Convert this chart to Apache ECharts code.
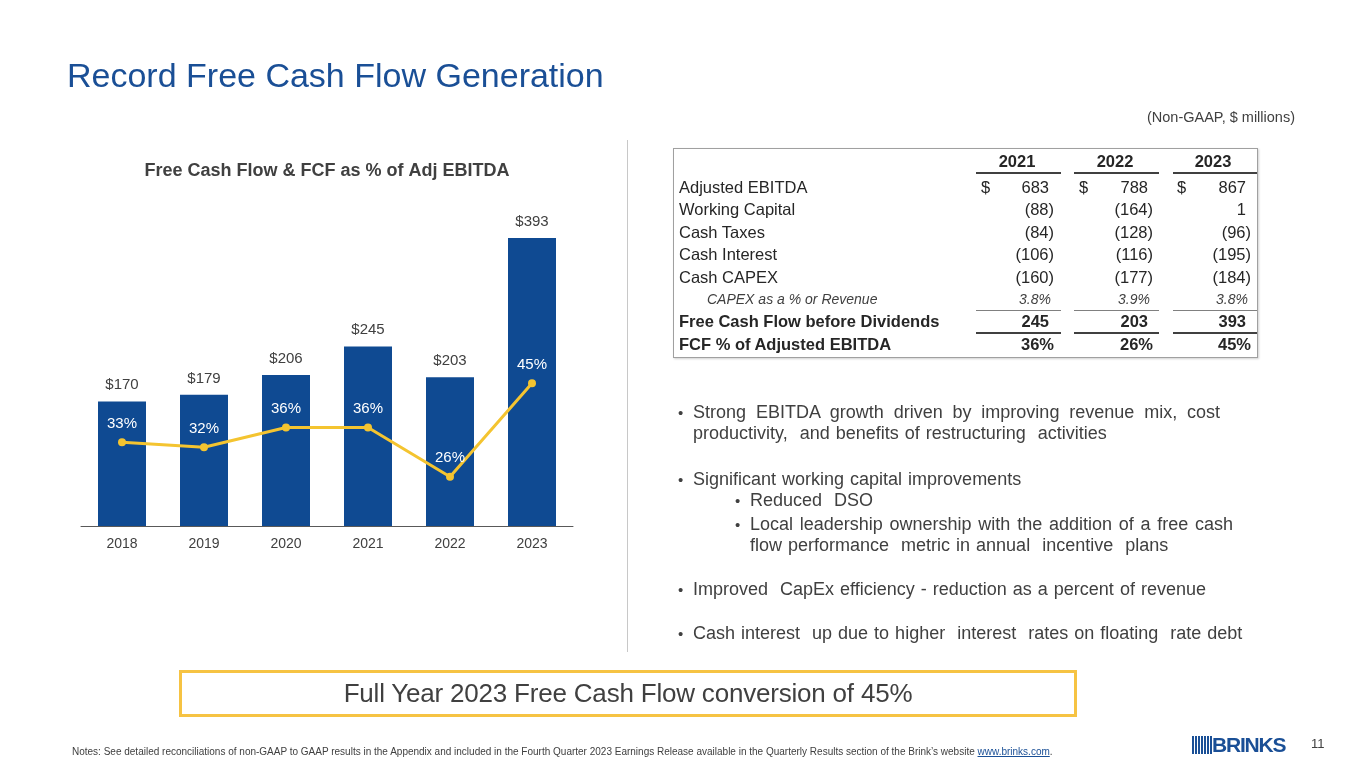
<!DOCTYPE html>
<html>
<head>
<meta charset="utf-8">
<script src="https://cdn.jsdelivr.net/npm/echarts@6/dist/echarts.min.js"></script>
<style>
    html, body { margin: 0; padding: 0; background: #fff; }
    body { width: 1365px; height: 768px; position: relative; overflow: hidden;
           font-family: "Liberation Sans", Arial, sans-serif; color: #404040; }
    #main { position: absolute; left: 0; top: 0; width: 1365px; height: 768px; }
    .abs { position: absolute; white-space: nowrap; }
    #title { left: 67px; top: 58px; font-size: 34px; color: #1a4f96; line-height: 1; }
    #unit { right: 70px; top: 109px; font-size: 14.5px; }
    #divider { left: 627px; top: 140px; width: 1px; height: 512px; background: #c8c8c8; }
    #tbl { left: 673px; top: 148px; width: 583px; height: 208px; border: 1px solid #a0a0a0;
           box-shadow: 1px 1px 2px #d0d0d0; }
    .cell { position: absolute; white-space: nowrap; font-size: 16.5px; line-height: 20px; color: #262626; }
    .rule { position: absolute; }
    .bl { position: absolute; font-size: 18px; line-height: 21px; }
    .bl .ln { text-align: justify; text-align-last: justify; white-space: nowrap; }
    .bl .ln.last { text-align-last: left; white-space: pre; word-spacing: 1px; }
    .dot { position: absolute; font-size: 15px; line-height: 21px; }
    #box { left: 179px; top: 670px; width: 892px; height: 41px; border: 3px solid #f6c343;
           text-align: center; font-size: 26px; line-height: 41px; letter-spacing: -0.2px; }
    #notes { left: 72px; top: 746px; font-size: 10px; letter-spacing: 0; }
    #notes a { color: #1a4f96; }
    #logo { left: 1192px; top: 735px; height: 20px; }
    #logo .bars { position: absolute; left: 0; top: 1px; width: 20px; height: 18px;
        background: repeating-linear-gradient(90deg, #1a4f96 0, #1a4f96 1.6px, #fff 1.6px, #fff 3px); }
    #logo .word { position: absolute; left: 20px; top: -2px; font-size: 21px; font-weight: 900;
        color: #1a4f96; letter-spacing: -1.2px; line-height: 24px; }
    #page { left: 1311px; top: 736px; font-size: 13px; }
</style>
</head>
<body>
<div id="main"></div>
<div id="title" class="abs">Record Free Cash Flow Generation</div>
<div id="unit" class="abs">(Non-GAAP, $ millions)</div>
<div id="divider" class="abs"></div>
<div id="tbl" class="abs"></div>
<div id="bullets"></div>
<div id="box" class="abs">Full Year 2023 Free Cash Flow conversion of 45%</div>
<div id="notes" class="abs">Notes: See detailed reconciliations of non-GAAP to GAAP results in the Appendix and included in the Fourth Quarter 2023 Earnings Release available in the Quarterly Results section of the Brink’s website <a href="#">www.brinks.com</a>.</div>
<div id="logo" class="abs"><div class="bars"></div><div class="word">BRINKS</div></div>
<div id="page" class="abs">11</div>

<script>
// chart data
var years = ['2018', '2019', '2020', '2021', '2022', '2023'];
var freeCashFlow = [170, 179, 206, 245, 203, 393];
var fcfPctEbitda = [33, 32, 36, 36, 26, 45];

// table data
var tableYears = ['2021', '2022', '2023'];
var adjustedEbitda = [683, 788, 867];
var workingCapital = [-88, -164, 1];
var cashTaxes = [-84, -128, -96];
var cashInterest = [-106, -116, -195];
var cashCapex = [-160, -177, -184];
var capexPctRevenue = [3.8, 3.9, 3.8];
var fcfBeforeDividends = [245, 203, 393];
var fcfPctAdjEbitda = [36, 26, 45];

var bullets = [
    { level: 0, top: 402, lines: ['Strong EBITDA growth driven by improving revenue mix, cost', 'productivity,  and benefits of restructuring  activities'] },
    { level: 0, top: 469, lines: ['Significant working capital improvements'] },
    { level: 1, top: 490, lines: ['Reduced  DSO'] },
    { level: 1, top: 514, lines: ['Local leadership  ownership  with the addition of a free cash', 'flow performance  metric in annual  incentive  plans'] },
    { level: 0, top: 579, lines: ['Improved  CapEx efficiency - reduction as a percent of revenue'] },
    { level: 0, top: 623, lines: ['Cash interest  up due to higher  interest  rates on floating  rate debt'] }
];

var myChart = echarts.init(document.getElementById('main'));

option = {
    backgroundColor: 'transparent',
    animation: false,
    title: {
        text: 'Free Cash Flow & FCF as % of Adj EBITDA',
        left: 322,
        top: 157,
        textAlign: 'center',
        textStyle: {
            fontFamily: 'Liberation Sans',
            fontSize: 18,
            fontWeight: 'bold',
            color: '#404040'
        }
    },
    grid: {
        left: 81,
        width: 492,
        top: 211,
        bottom: 242,
        containLabel: false,
        outerBoundsMode: 'none'
    },
    xAxis: {
        type: 'category',
        data: years,
        axisTick: { show: false },
        axisLine: { lineStyle: { color: '#595959', width: 1 } },
        axisLabel: {
            margin: 11,
            fontFamily: 'Liberation Sans',
            fontSize: 14,
            color: '#404040'
        }
    },
    yAxis: [
        { type: 'value', min: 0, max: 430, show: false, splitLine: { show: false } },
        { type: 'value', min: 16, max: 80, show: false, splitLine: { show: false } }
    ],
    series: [
        {
            type: 'bar',
            data: freeCashFlow,
            barWidth: 48,
            itemStyle: { color: '#0f4a92' },
            label: {
                show: true,
                position: 'top',
                distance: 9,
                formatter: function (p) { return '$' + p.value; },
                fontFamily: 'Liberation Sans',
                fontSize: 15,
                color: '#404040'
            }
        },
        {
            type: 'line',
            yAxisIndex: 1,
            data: fcfPctEbitda,
            symbol: 'circle',
            symbolSize: 8,
            lineStyle: { color: '#f4c430', width: 3 },
            itemStyle: { color: '#f4c430' },
            label: {
                show: true,
                position: 'top',
                distance: 7,
                formatter: '{c}%',
                fontFamily: 'Liberation Sans',
                fontSize: 15,
                color: '#ffffff'
            },
            z: 5
        }
    ]
};

myChart.setOption(option);

// ---- table ----
var tbl = document.getElementById('tbl');
var ox = 673, oy = 148;

function addCell(text, x, yc, opts) {
    opts = opts || {};
    var d = document.createElement('div');
    d.className = 'cell';
    d.textContent = text;
    d.style.top = (yc - oy - 10) + 'px';
    if (opts.right != null) {
        d.style.right = (ox + 584 - opts.right) + 'px';
    } else if (opts.center != null) {
        d.style.left = (opts.center - ox - 40) + 'px';
        d.style.width = '80px';
        d.style.textAlign = 'center';
    } else {
        d.style.left = (x - ox) + 'px';
    }
    if (opts.bold) d.style.fontWeight = 'bold';
    if (opts.italic) { d.style.fontStyle = 'italic'; d.style.fontSize = '14px'; d.style.color = '#404040'; }
    tbl.appendChild(d);
}

function addRule(x1, x2, y, w, c) {
    var d = document.createElement('div');
    d.className = 'rule';
    d.style.left = (x1 - ox) + 'px';
    d.style.width = (x2 - x1) + 'px';
    d.style.top = (y - oy) + 'px';
    d.style.height = w + 'px';
    d.style.background = c;
    tbl.appendChild(d);
}

function acct(v) {
    return v < 0 ? '(' + Math.abs(v) + ')' : String(v);
}

var colRight = [1054, 1153, 1251];
var colDollar = [980, 1078, 1176];
var colCenter = [1016, 1114, 1212];
var colSpan = [[975, 1060], [1073, 1158], [1172, 1256]];

tableYears.forEach(function (y, i) {
    addCell(y, 0, 160, { center: colCenter[i], bold: true });
    addRule(colSpan[i][0], colSpan[i][1], 171, 2, '#404040');
    addRule(colSpan[i][0], colSpan[i][1], 309, 1, '#808080');
    addRule(colSpan[i][0], colSpan[i][1], 331, 2, '#404040');
});

var rows = [
    { label: 'Adjusted EBITDA', vals: adjustedEbitda, dollar: true },
    { label: 'Working Capital', vals: workingCapital },
    { label: 'Cash Taxes', vals: cashTaxes },
    { label: 'Cash Interest', vals: cashInterest },
    { label: 'Cash CAPEX', vals: cashCapex },
    { label: 'CAPEX as a % or Revenue', vals: capexPctRevenue, pct: true, italic: true },
    { label: 'Free Cash Flow before Dividends', vals: fcfBeforeDividends, bold: true },
    { label: 'FCF % of Adjusted EBITDA', vals: fcfPctAdjEbitda, pct: true, bold: true }
];

rows.forEach(function (r, k) {
    var yc = 186 + k * 22.4;
    addCell(r.label, r.italic ? 706 : 678, yc, { bold: r.bold, italic: r.italic });
    r.vals.forEach(function (v, i) {
        var txt, right = colRight[i];
        if (r.pct) {
            txt = (r.italic ? v.toFixed(1) : v) + '%';
        } else {
            txt = acct(v);
            if (v >= 0) right -= 5;
        }
        if (r.italic) right -= 3;
        addCell(txt, 0, yc, { right: right, bold: r.bold, italic: r.italic });
        if (r.dollar) addCell('$', colDollar[i], yc, {});
    });
});

// ---- bullets ----
var bl = document.getElementById('bullets');
bullets.forEach(function (b) {
    var x = b.level ? 750 : 693;
    var w = b.level ? 483 : 527;
    var dot = document.createElement('div');
    dot.className = 'dot';
    dot.textContent = '•';
    dot.style.left = (x - 15) + 'px';
    dot.style.top = b.top + 'px';
    bl.appendChild(dot);
    var d = document.createElement('div');
    d.className = 'bl';
    d.style.left = x + 'px';
    d.style.top = b.top + 'px';
    d.style.width = w + 'px';
    b.lines.forEach(function (t, i) {
        var ln = document.createElement('div');
        ln.className = 'ln' + (i === b.lines.length - 1 ? ' last' : '');
        ln.textContent = t;
        d.appendChild(ln);
    });
    bl.appendChild(d);
});
</script>
</body>
</html>
